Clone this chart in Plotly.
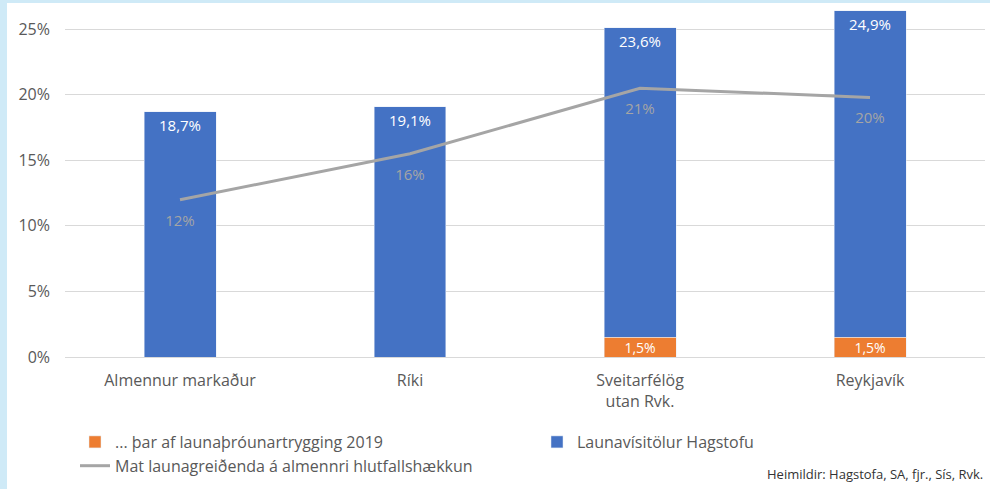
import plotly.graph_objects as go

# Categories and series (percent units)
categories = ["Almennur markaður", "Ríki", "Sveitarfélög<br>utan Rvk.", "Reykjavík"]
trygging = [None, None, 1.5, 1.5]          # ... þar af launaþróunartrygging 2019
launavisitala = [18.7, 19.1, 23.6, 24.9]   # Launavísitölur Hagstofu
mat_launagreidenda = [12.0, 15.5, 20.5, 19.8]  # Mat launagreiðenda á almennri hlutfallshækkun

y_ticks = [0, 5, 10, 15, 20, 25]
y_tick_labels = [f"{v}%" for v in y_ticks]

FONT = "Open Sans"
TEXT_GREY = "#595959"

fig = go.Figure()

fig.add_trace(go.Bar(
    name="... þar af launaþróunartrygging 2019",
    x=categories, y=trygging,
    marker=dict(color="#ED7D31"),
    texttemplate="%{y:.1f}%", textposition="inside", insidetextanchor="middle",
    textfont=dict(color="white", size=14, family=FONT),
    constraintext="none",
))
fig.add_trace(go.Bar(
    name="Launavísitölur Hagstofu",
    x=categories, y=launavisitala,
    marker=dict(color="#4472C4"),
    texttemplate="%{y:.1f}%", textposition="inside", insidetextanchor="end",
    textfont=dict(color="white", size=15, family=FONT),
    constraintext="none",
))
fig.add_trace(go.Scatter(
    name="Mat launagreiðenda á almennri hlutfallshækkun",
    x=categories, y=mat_launagreidenda,
    mode="lines+markers+text",
    line=dict(color="#A5A5A5", width=3),
    marker=dict(size=22, color="rgba(0,0,0,0)"),
    texttemplate="%{y:.0f}%", textposition="bottom center",
    textfont=dict(color="#A5A5A5", size=15, family=FONT),
))

# Plot-area geometry used for the panel background shape
L, R, T, B = 65, 5, 3, 132
W, H = 990, 489
pw, ph = W - L - R, H - T - B

fig.add_shape(
    type="rect", xref="paper", yref="paper", layer="below",
    x0=(7 - L) / pw, x1=(W - L) / pw + 0.01,
    y0=-(B + 5) / ph, y1=1.0,
    fillcolor="white", line=dict(width=0),
)

fig.add_annotation(
    text="Heimildir: Hagstofa, SA, fjr., Sís, Rvk.",
    xref="paper", yref="paper", x=1.0, y=(357 - 474) / ph,
    xanchor="right", yanchor="middle", showarrow=False,
    font=dict(size=13, color="#333333", family=FONT),
)

fig.update_layout(
    width=W, height=H,
    margin=dict(l=L, r=R, t=T, b=B, autoexpand=False),
    paper_bgcolor="#CFEAF7",
    plot_bgcolor="white",
    barmode="stack",
    bargap=0.687,
    separators=",.",
    font=dict(family=FONT, size=16, color=TEXT_GREY),
    showlegend=True,
    legend=dict(
        orientation="h", x=(75 - L) / pw, y=(357 - 425) / ph,
        xanchor="left", yanchor="top",
        entrywidth=417, entrywidthmode="pixels",
        itemwidth=30,
        traceorder="normal",
        font=dict(size=16, color=TEXT_GREY, family=FONT),
        bgcolor="rgba(0,0,0,0)",
    ),
    xaxis=dict(
        showgrid=False, showline=False, ticks="",
        ticklabelstandoff=12,
        tickfont=dict(size=16, color=TEXT_GREY, family=FONT),
    ),
    yaxis=dict(
        range=[0, 27], tickmode="array", tickvals=y_ticks, ticktext=y_tick_labels,
        showgrid=True, gridcolor="#D9D9D9", gridwidth=1,
        zeroline=True, zerolinecolor="#D9D9D9", zerolinewidth=1,
        showline=False, ticks="", ticklabelstandoff=14,
        tickfont=dict(size=16, color=TEXT_GREY, family=FONT),
    ),
)

fig.write_html("out.html")
